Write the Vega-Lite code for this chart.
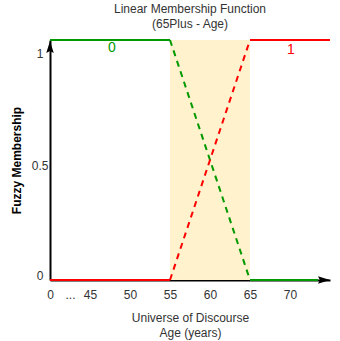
{
  "$schema": "https://vega.github.io/schema/vega-lite/v6.json",
  "width": 280,
  "height": 240,
  "autosize": {"type": "none"},
  "padding": {"left": 50, "top": 40, "right": 10, "bottom": 61},
  "background": "white",
  "config": {"view": {"stroke": null}, "font": "Liberation Sans"},
  "title": {
    "text": ["Linear Membership Function", "(65Plus - Age)"],
    "fontSize": 12,
    "fontWeight": "normal",
    "color": "#333333",
    "lineHeight": 15,
    "offset": 5,
    "frame": "group",
    "anchor": "middle"
  },
  "datasets": {
    "zone": [{"age": 55, "age_end": 65, "membership": 0, "membership_top": 1}],
    "curves": [
      {"part": "a", "colour": "green", "style": "solid", "age": 0, "membership": 1},
      {"part": "a", "colour": "green", "style": "solid", "age": 55, "membership": 1},
      {"part": "b", "colour": "green", "style": "dashed", "age": 55, "membership": 1},
      {"part": "b", "colour": "green", "style": "dashed", "age": 65, "membership": 0},
      {"part": "c", "colour": "green", "style": "solid", "age": 65, "membership": 0},
      {"part": "c", "colour": "green", "style": "solid", "age": 73.5, "membership": 0},
      {"part": "d", "colour": "red", "style": "solid", "age": 0, "membership": 0},
      {"part": "d", "colour": "red", "style": "solid", "age": 55, "membership": 0},
      {"part": "e", "colour": "red", "style": "dashed", "age": 55, "membership": 0},
      {"part": "e", "colour": "red", "style": "dashed", "age": 65, "membership": 1},
      {"part": "f", "colour": "red", "style": "solid", "age": 65, "membership": 1},
      {"part": "f", "colour": "red", "style": "solid", "age": 75, "membership": 1}
    ],
    "labels": [
      {"age": 47.75, "membership": 0.967, "text": "0", "colour": "green"},
      {"age": 70.1, "membership": 0.958, "text": "1", "colour": "red"}
    ],
    "arrows": [
      {"age": 0, "membership": 0.9646, "dir": "up"},
      {"age": 74.06, "membership": 0, "dir": "right"}
    ]
  },
  "encoding": {
    "x": {
      "field": "age",
      "type": "quantitative",
      "scale": {"domain": [0, 45, 75], "range": [0, 40, 280], "nice": false, "zero": false},
      "axis": {
        "title": ["Universe of Discourse", "Age (years)"],
        "values": [0, 22.5, 45, 50, 55, 60, 65, 70],
        "labelExpr": "datum.value == 22.5 ? '...' : format(datum.value, 'd')",
        "domainColor": "black",
        "domainWidth": 2,
        "ticks": false,
        "tickSize": 0,
        "grid": false,
        "labelFontSize": 12,
        "labelColor": "#333333",
        "labelPadding": 9,
        "labelFlush": false,
        "labelOverlap": false,
        "titleFontSize": 12,
        "titleFontWeight": "normal",
        "titleColor": "#333333",
        "titleLineHeight": 15,
        "titlePadding": 12
      }
    },
    "y": {
      "field": "membership",
      "type": "quantitative",
      "scale": {"domain": [0, 1], "nice": false},
      "axis": {
        "title": "Fuzzy Membership",
        "values": [0, 0.5, 1],
        "labelExpr": "datum.value == 0.5 ? '0.5' : format(datum.value, 'd')",
        "domainColor": "black",
        "domainWidth": 2,
        "ticks": false,
        "tickSize": 0,
        "grid": false,
        "labelFontSize": 12,
        "labelColor": "#333333",
        "labelPadding": {"condition": {"test": "datum.value == 0.5", "value": 2}, "value": 7},
        "labelOffset": {"condition": [{"test": "datum.value == 1", "value": 13}, {"test": "datum.value == 0", "value": -5}], "value": 5},
        "labelFlush": false,
        "titleFontSize": 12,
        "titleFontWeight": "bold",
        "titleColor": "#000000",
        "titlePadding": 8
      }
    }
  },
  "layer": [
    {
      "data": {"name": "zone"},
      "mark": {"type": "rect", "color": "#fff2cc"},
      "encoding": {
        "x2": {"field": "age_end"},
        "y2": {"field": "membership_top"}
      }
    },
    {
      "data": {"name": "curves"},
      "mark": {"type": "line", "strokeWidth": 2, "strokeCap": "butt"},
      "encoding": {
        "color": {"field": "colour", "type": "nominal", "scale": {"domain": ["green", "red"], "range": ["#009900", "#ff0000"]}, "legend": null},
        "strokeDash": {"field": "style", "type": "nominal", "scale": {"domain": ["solid", "dashed"], "range": [[1, 0], [6, 5]]}, "legend": null},
        "detail": {"field": "part"}
      }
    },
    {
      "data": {"name": "labels"},
      "mark": {"type": "text", "fontSize": 14, "align": "center", "baseline": "middle"},
      "encoding": {
        "text": {"field": "text"},
        "color": {"field": "colour", "type": "nominal", "scale": {"domain": ["green", "red"], "range": ["#009900", "#ff0000"]}, "legend": null}
      }
    },
    {
      "data": {"name": "arrows"},
      "mark": {"type": "point", "filled": true, "color": "black", "opacity": 1, "size": 225, "strokeWidth": 0},
      "encoding": {
        "shape": {"field": "dir", "type": "nominal", "scale": {"domain": ["up", "right"], "range": ["M0,-1L0.5,0.6L0,0.35L-0.5,0.6Z", "M1,0L-0.6,0.5L-0.35,0L-0.6,-0.5Z"]}, "legend": null}
      }
    }
  ]
}
